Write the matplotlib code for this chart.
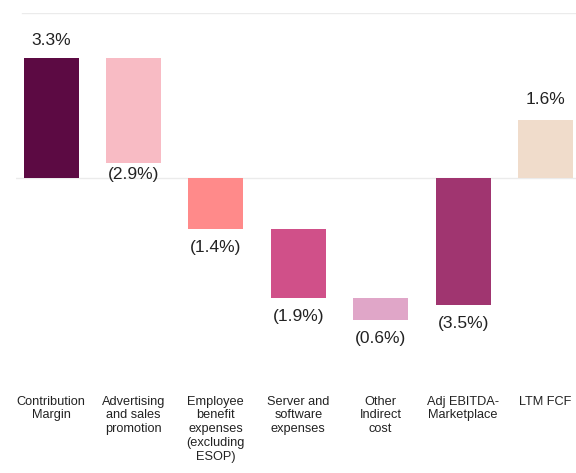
import matplotlib
matplotlib.use("Agg")
import matplotlib.pyplot as plt

categories = ["Contribution\nMargin", "Advertising\nand sales\npromotion",
              "Employee\nbenefit\nexpenses\n(excluding\nESOP)", "Server and\nsoftware\nexpenses",
              "Other\nIndirect\ncost", "Adj EBITDA-\nMarketplace", "LTM FCF"]
values = [3.3, -2.9, -1.4, -1.9, -0.6, -3.5, 1.6]
starts = [0.0, 3.3, 0.0, -1.4, -3.3, 0.0, 0.0]
labels = ["3.3%", "(2.9%)", "(1.4%)", "(1.9%)", "(0.6%)", "(3.5%)", "1.6%"]
colors = ["#5C0A43", "#F8BBC4", "#FF8A8A", "#D05089", "#E0A6C8", "#A03570", "#F0DCCB"]

plt.rcParams['font.family'] = ['Liberation Sans', 'DejaVu Sans']

fig = plt.figure(figsize=(5.76, 4.73), dpi=100)
ax = fig.add_axes([16/576, 1-345/473, (576-16)/576, 332/473])

x = list(range(len(categories)))
ax.bar(x, values, bottom=starts, width=0.667, color=colors, zorder=3)

ax.set_xlim(-0.425, 6.37)
ax.set_ylim(-4.6, 4.53)
ax.axhline(0, color="#EBEBEB", lw=1, zorder=1)
ax.axhline(4.53, color="#EBEBEB", lw=1, xmin=0.01, zorder=1)

offsets = [7, 3, 8, 8, 8, 8, 9]
for i, (v, s, lab) in enumerate(zip(values, starts, labels)):
    if v >= 0:
        ax.annotate(lab, (i, s + v), xytext=(0, offsets[i]), textcoords="offset points",
                    ha="center", va="bottom", fontsize=12.5, color="#222222")
    else:
        ax.annotate(lab, (i, s + v), xytext=(0, -offsets[i]), textcoords="offset points",
                    ha="center", va="top", fontsize=12.5, color="#222222")

for i, c in enumerate(categories):
    ax.annotate(c, (i, 0), xycoords=("data", "axes fraction"), xytext=(0, -36.5),
                textcoords="offset points", ha="center", va="top", fontsize=9.2,
                color="#222222", linespacing=1.2)

ax.set_xticks([])
ax.set_yticks([])
for sp in ax.spines.values():
    sp.set_visible(False)

fig.savefig("out.png", dpi=100)
